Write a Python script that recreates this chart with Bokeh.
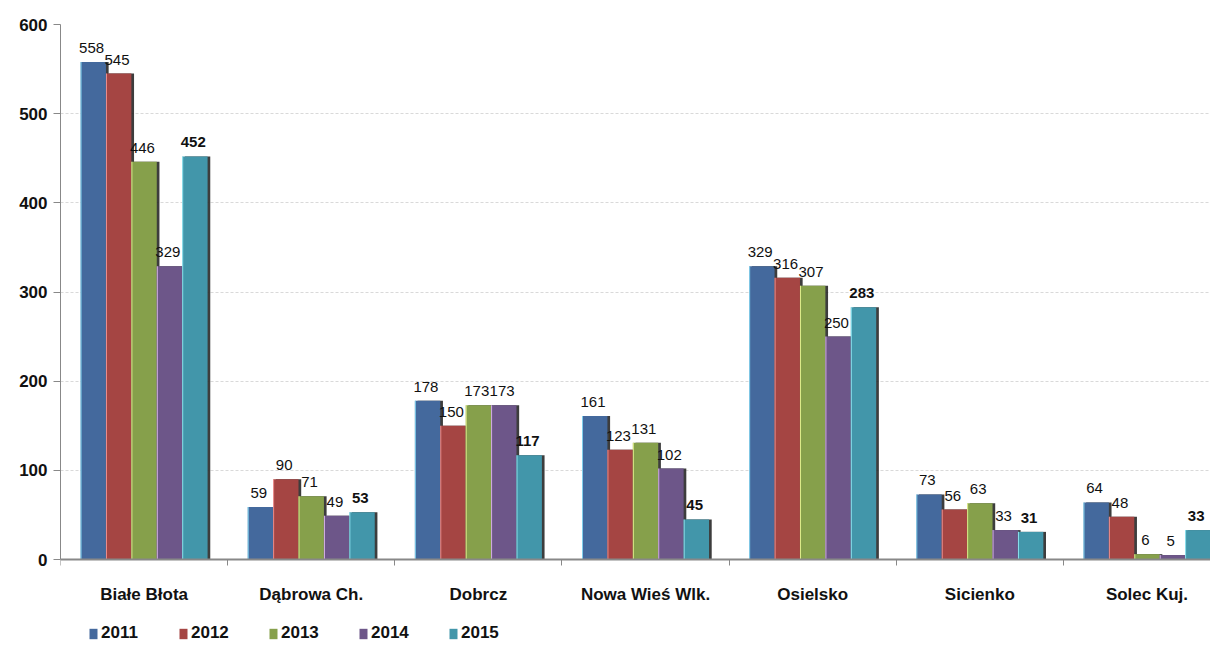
from bokeh.plotting import figure
from bokeh.models import (ColumnDataSource, FixedTicker, Legend, LegendItem, Range1d)
from bokeh.transform import dodge
from bokeh.core.properties import value
from bokeh.embed import file_html
from bokeh.resources import INLINE

categories = ["Białe Błota", "Dąbrowa Ch.", "Dobrcz", "Nowa Wieś Wlk.", "Osielsko", "Sicienko", "Solec Kuj."]
years = ["2011", "2012", "2013", "2014", "2015"]
v2011 = [558, 59, 178, 161, 329, 73, 64]
v2012 = [545, 90, 150, 123, 316, 56, 48]
v2013 = [446, 71, 173, 131, 307, 63, 6]
v2014 = [329, 49, 173, 102, 250, 33, 5]
v2015 = [452, 53, 117, 45, 283, 31, 33]
y_ticks = [0, 100, 200, 300, 400, 500, 600]

series = [v2011, v2012, v2013, v2014, v2015]
colors = ["#44699D", "#A54543", "#86A04B", "#6D5689", "#4296AA"]
edges = ["#8FE8FF", "#FFA0A0", "#F4FF9A", "#F0C8FF", "#9FF4FF"]

xs = list(range(len(categories)))
src = ColumnDataSource(dict(
    x=xs, cat=categories,
    **{"y" + yr: s for yr, s in zip(years, series)},
    **{"l" + yr: [str(v) for v in s] for yr, s in zip(years, series)},
))

W, H = 1210, 648
p = figure(width=W, height=H, output_backend="svg", toolbar_location=None,
           x_range=Range1d(-0.5, 6.38), y_range=Range1d(-99.8, 600),
           min_border_left=60, min_border_right=0, min_border_top=24, min_border_bottom=0)
p.outline_line_color = None
p.xgrid.grid_line_color = None
p.ygrid.grid_line_color = "#d9d9d9"
p.ygrid.grid_line_dash = "3 2"
p.ygrid.ticker = FixedTicker(ticks=y_ticks)

bw = 0.152
FONT = "Liberation Sans"
items = []
for i, yr in enumerate(years):
    off = (i - 2) * bw
    p.vbar(x=dodge("x", off + 0.016, range=p.x_range), top="y" + yr, width=bw, source=src,
           fill_color="#1b1b1b", fill_alpha=0.85, line_color=None)
    r = p.vbar(x=dodge("x", off, range=p.x_range), top="y" + yr, width=bw, source=src,
               fill_color=colors[i], line_color=None)
    p.vbar(x=dodge("x", off - bw / 2 + 0.003, range=p.x_range), top="y" + yr, width=0.006,
           source=src, fill_color=edges[i], fill_alpha=0.8, line_color=None)
    items.append(LegendItem(label=yr, renderers=[r]))
    p.text(x=dodge("x", off - 0.01, range=p.x_range), y="y" + yr, text="l" + yr, source=src,
           text_align="center", text_baseline="alphabetic", y_offset=-14,
           text_font=value(FONT), text_font_size="15px",
           text_font_style="normal" if i < 4 else "bold", text_color="#111111")

# axes
p.yaxis.ticker = FixedTicker(ticks=y_ticks)
p.yaxis.bounds = (0, 600)
p.yaxis.axis_line_color = "#888888"
p.yaxis.major_tick_line_color = "#888888"
p.yaxis.major_tick_out = 7
p.yaxis.major_tick_in = 0
p.yaxis.minor_tick_line_color = None
p.yaxis.major_label_text_font = FONT
p.yaxis.major_label_text_font_style = "bold"
p.yaxis.major_label_text_font_size = "17px"
p.yaxis.major_label_text_color = "#111111"
p.yaxis.major_label_standoff = 6

p.xaxis.fixed_location = 0
p.xaxis.ticker = FixedTicker(ticks=xs, minor_ticks=[x - 0.5 for x in xs])
p.xaxis.major_label_overrides = {x: c for x, c in zip(xs, categories)}
p.xaxis.axis_line_color = "#888888"
p.xaxis.axis_line_width = 2
p.xaxis.major_tick_line_color = None
p.xaxis.minor_tick_line_color = "#888888"
p.xaxis.minor_tick_out = 6
p.xaxis.minor_tick_in = 0
p.xaxis.major_label_standoff = 19
p.xaxis.major_label_text_font = FONT
p.xaxis.major_label_text_font_style = "bold"
p.xaxis.major_label_text_font_size = "17px"
p.xaxis.major_label_text_color = "#111111"

legend = Legend(items=items, orientation="horizontal", location=(28, 5),
                glyph_width=10, glyph_height=13, label_standoff=3, label_width=67, spacing=10,
                padding=0, margin=0, border_line_color=None, background_fill_alpha=0,
                label_text_font=FONT, label_text_font_style="bold", label_text_font_size="17px",
                label_text_color="#111111", label_height=16)
p.add_layout(legend, "center")

open("out.html", "w").write(file_html(p, INLINE))
